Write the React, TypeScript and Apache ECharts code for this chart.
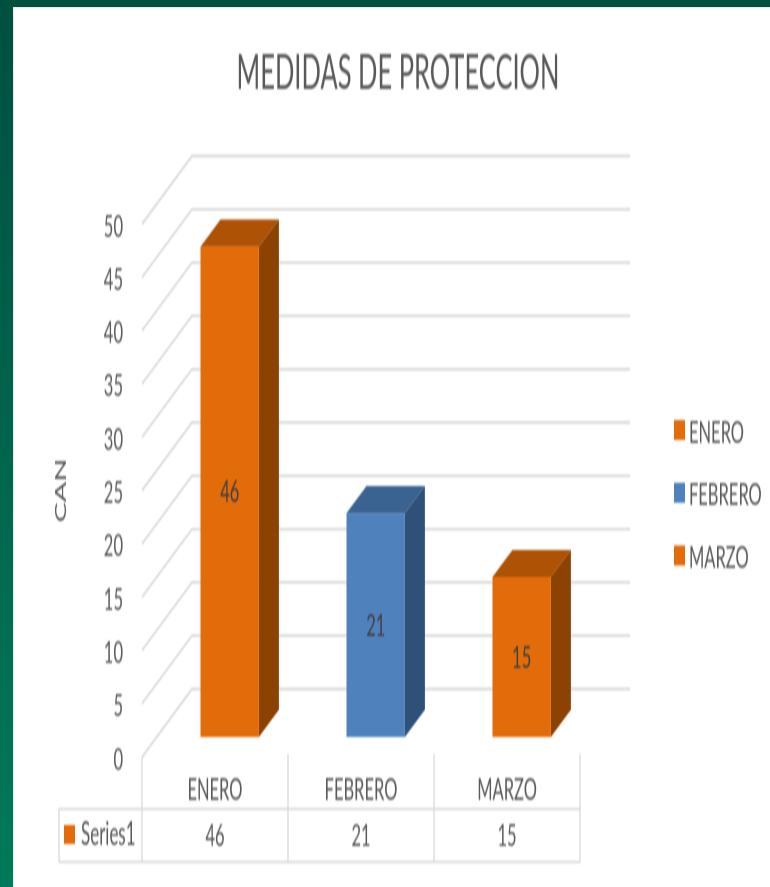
import React, { useEffect, useRef } from "react";
import * as echarts from "echarts";

const categories = ["ENERO", "FEBRERO", "MARZO"];
const values = [46, 21, 15];
const tableLabels = ["46", "21", "15"];
const yTicks = [0, 5, 10, 15, 20, 25, 30, 35, 40, 45, 50];
const faceColors = ["#E36C0A", "#4F81BD", "#E36C0A"];
const topColors = ["#AE5206", "#3A6391", "#AE5206"];
const sideColors = ["#8C4200", "#2F5078", "#8C4200"];

// The reference is a picture stretched vertically: the chart is laid out flat and stretched with CSS.
const S = 1.9;
const W = 770;
const H = 887;
const py = (y: number) => y / S;
const DX = 50;
const DY = -68 / S;
const FONT = "Lato";
const TEXT = "#595959";
const LINE = "#DCDCDC";

export default function App() {
  const ref = useRef<HTMLDivElement>(null);
  useEffect(() => {
    document.body.style.margin = "0";
    const chart = echarts.init(ref.current!, null, { renderer: "svg", width: W, height: H / S });

    const gridSeries = {
      type: "custom",
      name: "grid",
      coordinateSystem: "cartesian2d",
      silent: true,
      z: 1,
      clip: false,
      data: yTicks.map((t) => [0, t]),
      renderItem: (params: any, api: any) => {
        const y = api.coord([0, api.value(1)])[1];
        const cs = params.coordSys;
        return {
          type: "polyline",
          shape: {
            points: [
              [cs.x, y],
              [cs.x + DX, y + DY],
              [cs.x + cs.width + DX, y + DY],
            ],
          },
          style: { stroke: LINE, lineWidth: 1.5, fill: "none" },
        };
      },
    };

    const barSeries = categories.map((name, i) => ({
      type: "custom",
      name,
      coordinateSystem: "cartesian2d",
      z: 3,
      clip: false,
      itemStyle: { color: faceColors[i] },
      data: [[i, values[i]]],
      renderItem: (_p: any, api: any) => {
        const idx = api.value(0);
        const v = api.value(1);
        const band = api.size([1, 0])[0];
        const w = band * 0.4;
        const c0 = api.coord([idx, 0]);
        const c1 = api.coord([idx, v]);
        const ox = DX * 0.294;
        const oy = DY * 0.294;
        const dx = DX * 0.4;
        const dy = DY * 0.4;
        const l = c0[0] - w / 2 + ox;
        const r = l + w;
        const b = c0[1] + oy;
        const t = c1[1] + oy;
        return {
          type: "group",
          children: [
            {
              type: "polygon",
              shape: { points: [[l, t], [r, t], [r + dx, t + dy], [l + dx, t + dy]] },
              style: { fill: topColors[i] },
            },
            {
              type: "polygon",
              shape: { points: [[r, t], [r + dx, t + dy], [r + dx, b + dy], [r, b]] },
              style: { fill: sideColors[i] },
            },
            {
              type: "rect",
              shape: { x: l, y: t, width: w, height: b - t },
              style: { fill: faceColors[i] },
            },
            {
              type: "text",
              style: {
                text: String(v),
                x: (l + r) / 2,
                y: (t + b) / 2 - 1,
                align: "center",
                verticalAlign: "middle",
                fontFamily: FONT,
                fontSize: 16.5,
                fill: "#404040",
              },
            },
          ],
        };
      },
    }));

    const line = (x1: number, y1: number, x2: number, y2: number) => ({
      type: "line",
      silent: true,
      shape: { x1, y1: py(y1), x2, y2: py(y2) },
      style: { stroke: LINE, lineWidth: 1.4 },
    });

    chart.setOption({
      animation: false,
      color: faceColors,
      title: {
        text: "MEDIDAS DE PROTECCION",
        left: 393,
        textAlign: "center",
        top: py(72) - 19,
        textStyle: { fontFamily: FONT, fontSize: 25.5, fontWeight: "normal", color: TEXT },
      },
      legend: {
        orient: "vertical",
        left: 669,
        top: py(432) - 14.5,
        itemWidth: 11,
        itemHeight: 10.5,
        itemGap: 16,
        icon: "rect",
        data: categories,
        textStyle: { fontFamily: FONT, fontSize: 16.5, color: TEXT, padding: [0, 0, 0, -1] },
      },
      grid: { left: 142, top: py(224), width: 438, height: py(533) },
      xAxis: [
        {
          type: "category",
          data: categories,
          position: "bottom",
          axisLine: { show: false },
          axisTick: { show: false },
          splitLine: { show: false },
          axisLabel: { margin: 7.5, fontFamily: FONT, fontSize: 16.5, color: TEXT },
        },
        {
          type: "category",
          data: tableLabels,
          position: "bottom",
          axisLine: { show: false },
          axisTick: { show: false },
          splitLine: { show: false },
          axisLabel: { margin: 31.5, fontFamily: FONT, fontSize: 16.5, color: TEXT },
        },
      ],
      yAxis: {
        type: "value",
        min: 0,
        max: 50,
        interval: 5,
        name: "CAN",
        nameLocation: "middle",
        nameGap: 74,
        nameRotate: 90,
        nameTextStyle: { fontFamily: FONT, fontSize: 16, color: TEXT },
        axisLine: { show: false },
        axisTick: { show: false },
        splitLine: { show: false },
        axisLabel: { margin: 19, fontFamily: FONT, fontSize: 16.5, color: TEXT, padding: [0, 0, 2, 0] },
      },
      graphic: [
        line(59, 809, 580, 809),
        line(59, 862, 580, 862),
        line(59, 809, 59, 862),
        line(142, 757, 142, 862),
        line(288, 754, 288, 862),
        line(434, 754, 434, 862),
        line(580, 754, 580, 862),
        {
          type: "rect",
          silent: true,
          shape: { x: 64, y: py(825), width: 11, height: py(19) },
          style: { fill: faceColors[0] },
        },
        {
          type: "text",
          silent: true,
          style: {
            text: "Series1",
            x: 81,
            y: py(835) - 1.5,
            verticalAlign: "middle",
            fontFamily: FONT,
            fontSize: 17,
            fill: TEXT,
          },
        },
      ],
      series: [gridSeries, ...barSeries],
    });
    return () => chart.dispose();
  }, []);

  return (
    <div
      style={{
        position: "relative",
        width: W,
        height: H,
        overflow: "hidden",
        background: "linear-gradient(180deg, #00503F 0%, #007A58 100%)",
      }}
    >
      <div
        style={{
          position: "absolute",
          left: 13,
          top: 7,
          right: 0,
          bottom: 0,
          background: "#FFFFFF",
          boxShadow: "inset 1px 1px 1px #E4E8E8",
        }}
      />
      <div
        ref={ref}
        style={{
          position: "absolute",
          left: 0,
          top: 0,
          width: W,
          height: H / S,
          transform: `scaleY(${S})`,
          transformOrigin: "0 0",
          filter: "blur(0.5px)",
        }}
      />
    </div>
  );
}
